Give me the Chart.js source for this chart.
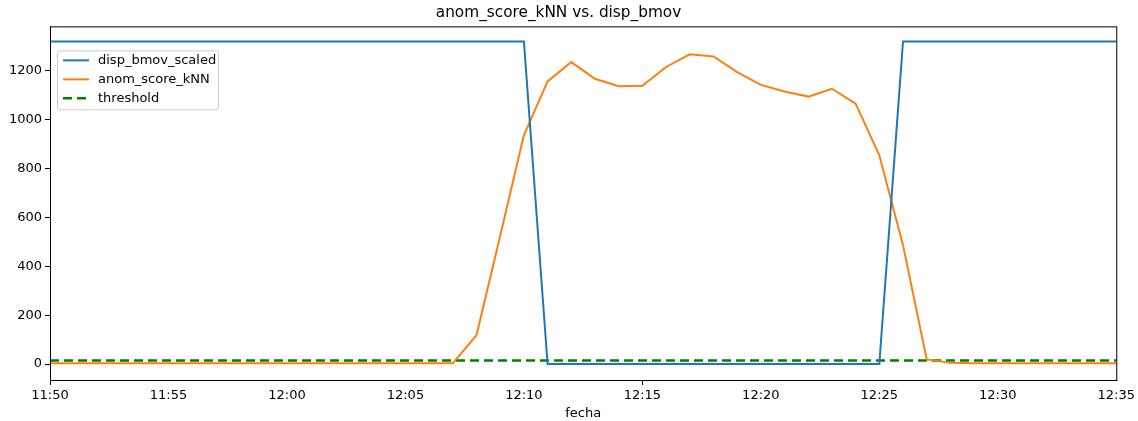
<!DOCTYPE html>
<html>
<head>
<meta charset="utf-8">
<script src="https://cdn.jsdelivr.net/npm/chart.js@4"></script>
<style>
  html, body { margin: 0; padding: 0; background: #fff; }
  #wrap { width: 1138px; height: 421px; }
</style>
</head>
<body>
<div id="wrap"><canvas id="anomChart"></canvas></div>
<script>
const times = ['11:50','11:51','11:52','11:53','11:54','11:55','11:56','11:57','11:58','11:59',
  '12:00','12:01','12:02','12:03','12:04','12:05','12:06','12:07','12:08','12:09',
  '12:10','12:11','12:12','12:13','12:14','12:15','12:16','12:17','12:18','12:19',
  '12:20','12:21','12:22','12:23','12:24','12:25','12:26','12:27','12:28','12:29',
  '12:30','12:31','12:32','12:33','12:34','12:35'];

const dispBmovScaled = [1318,1318,1318,1318,1318,1318,1318,1318,1318,1318,
  1318,1318,1318,1318,1318,1318,1318,1318,1318,1318,
  1318,0,0,0,0,0,0,0,0,0,
  0,0,0,0,0,0,1318,1318,1318,1318,
  1318,1318,1318,1318,1318,1318];

const anomScoreKNN = [3,3,3,3,3,3,3,3,3,3,
  3,3,3,3,3,3,3,3,118,524,
  935,1155,1234,1166,1135,1137,1214,1266,1257,1193,
  1141,1114,1093,1125,1064,853,486,19,5,3,
  3,3,3,3,3,3];

const threshold = [15,15,15,15,15,15,15,15,15,15,
  15,15,15,15,15,15,15,15,15,15,
  15,15,15,15,15,15,15,15,15,15,
  15,15,15,15,15,15,15,15,15,15,
  15,15,15,15,15,15];

const FONT = 'DejaVu Sans';

// matplotlib style box around the plot + legend inside upper left
const framePlugin = {
  id: 'frame',
  afterDatasetsDraw(chart) {
    const { ctx, chartArea: a } = chart;
    ctx.save();
    ctx.strokeStyle = '#000';
    ctx.lineWidth = 1;
    ctx.strokeRect(a.left + 0.5, a.top + 0.5, a.right - a.left, a.bottom - a.top);

    // legend
    const x = a.left + 7, y = a.top + 24, w = 161, h = 59;
    ctx.fillStyle = 'rgba(255,255,255,0.8)';
    ctx.strokeStyle = '#cccccc';
    ctx.beginPath();
    ctx.roundRect(x + 0.5, y + 0.5, w, h, 3);
    ctx.fill();
    ctx.stroke();
    ctx.font = '13px ' + FONT;
    ctx.textBaseline = 'middle';
    chart.data.datasets.forEach((ds, i) => {
      const ly = y + 10 + i * 19;
      ctx.strokeStyle = ds.borderColor;
      ctx.lineWidth = ds.borderWidth;
      ctx.setLineDash(ds.borderDash || []);
      ctx.beginPath();
      ctx.moveTo(x + 6, ly);
      ctx.lineTo(x + 32, ly);
      ctx.stroke();
      ctx.setLineDash([]);
      ctx.fillStyle = '#000';
      ctx.fillText(ds.label, x + 41, ly);
    });
    ctx.restore();
  }
};

new Chart(document.getElementById('anomChart'), {
  type: 'line',
  data: {
    labels: times,
    datasets: [
      { label: 'disp_bmov_scaled', data: dispBmovScaled, borderColor: '#1f77b4', borderWidth: 2 },
      { label: 'anom_score_kNN', data: anomScoreKNN, borderColor: '#ff7f0e', borderWidth: 2 },
      { label: 'threshold', data: threshold, borderColor: '#008000', borderWidth: 2.5, borderDash: [9, 5] }
    ]
  },
  options: {
    responsive: true,
    maintainAspectRatio: false,
    animation: false,
    elements: { point: { radius: 0 }, line: { tension: 0 } },
    layout: { padding: { left: 0, right: 21, top: 0, bottom: 0 } },
    plugins: {
      legend: { display: false },
      tooltip: { enabled: false },
      title: {
        display: true,
        text: 'anom_score_kNN vs. disp_bmov',
        color: '#000',
        font: { family: FONT, size: 15.3, weight: 'normal' },
        padding: { top: 4, bottom: 4 }
      }
    },
    scales: {
      x: {
        type: 'category',
        offset: false,
        grid: {
          drawOnChartArea: false,
          tickLength: 5,
          tickColor: ctx => (ctx.index % 5 === 0 ? '#000' : 'rgba(0,0,0,0)')
        },
        border: { color: '#000' },
        ticks: {
          autoSkip: false,
          maxRotation: 0,
          color: '#000',
          padding: 3,
          font: { family: FONT, size: 13 },
          callback: (v, i) => (i % 5 === 0 ? times[i] : null)
        },
        title: {
          display: true,
          text: 'fecha',
          color: '#000',
          font: { family: FONT, size: 13 },
          padding: { top: 0, bottom: 0 }
        },
        afterFit: s => { s.height = 41; }
      },
      y: {
        min: -65,
        max: 1380,
        grid: { drawOnChartArea: false, tickLength: 5, tickColor: '#000' },
        border: { color: '#000' },
        ticks: {
          stepSize: 200,
          includeBounds: false,
          color: '#000',
          padding: 3,
          font: { family: FONT, size: 13 },
          callback: v => String(v)
        },
        afterFit: s => { s.width = 50; }
      }
    }
  },
  plugins: [framePlugin]
});
</script>
</body>
</html>
